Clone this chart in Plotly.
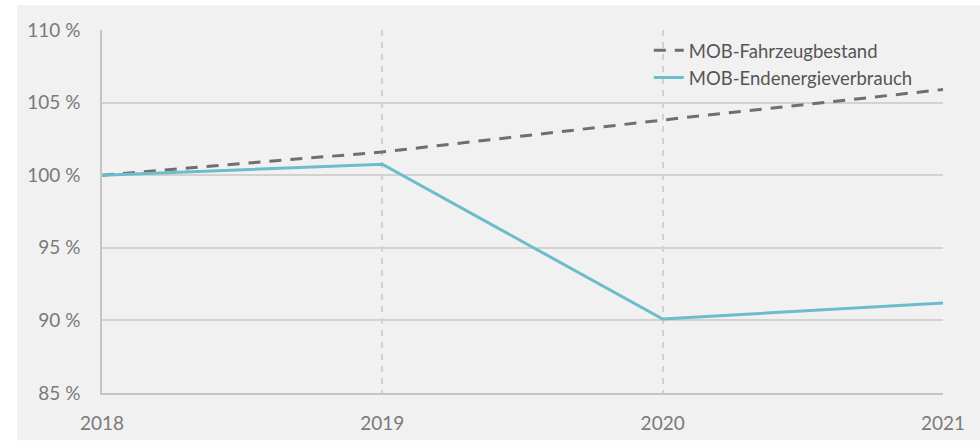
import plotly.graph_objects as go

# Index values (2018 = 100 %)
years = [2018, 2019, 2020, 2021]
fahrzeugbestand = [100.0, 101.6, 103.8, 105.9]
endenergieverbrauch = [100.0, 100.75, 90.1, 91.2]
y_ticks = [85, 90, 95, 100, 105, 110]
y_tick_labels = ["85 %", "90 %", "95 %", "100 %", "105 %", "110 %"]

FONT = "Lato, 'Open Sans', sans-serif"
BG = "#f1f1f1"

fig = go.Figure()
fig.add_trace(go.Scatter(
    x=years, y=fahrzeugbestand, mode="lines", name="MOB-Fahrzeugbestand",
    line=dict(color="#6f6f6f", width=3, dash="12px,9px"),
))
fig.add_trace(go.Scatter(
    x=years, y=endenergieverbrauch, mode="lines", name="MOB-Endenergieverbrauch",
    line=dict(color="#6cbccb", width=3),
))

fig.update_layout(
    width=980, height=446,
    margin=dict(l=102, r=37, t=30, b=47),
    paper_bgcolor="white",
    plot_bgcolor=BG,
    font=dict(family=FONT, size=19, color="#7a7a7a"),
    showlegend=True,
    legend=dict(
        x=0.97, y=0.995, xanchor="right", yanchor="top",
        bgcolor="rgba(0,0,0,0)",
        font=dict(family=FONT, size=18.5, color="#555555"),
        tracegroupgap=0,
    ),
    shapes=[dict(
        type="rect", xref="paper", yref="paper",
        x0=-0.101, x1=1.044, y0=-0.13, y1=1.068,
        fillcolor=BG, line=dict(width=0), layer="below",
    )],
)

fig.update_xaxes(
    range=[2018, 2021],
    tickvals=years, ticktext=[str(y) for y in years],
    showgrid=True, gridcolor="#d2d2d2", griddash="6px,6px", gridwidth=1.5,
    showline=True, linecolor="#c4c4c4", linewidth=1.5,
    zeroline=False, ticks="", ticklabelstandoff=12,
)
fig.update_yaxes(
    range=[85, 110],
    tickvals=y_ticks, ticktext=y_tick_labels,
    showgrid=True, gridcolor="#d2d2d2", gridwidth=1.5,
    showline=True, linecolor="#c4c4c4", linewidth=1.5,
    zeroline=False, ticks="", ticklabelstandoff=16,
)

fig.write_html("out.html")
